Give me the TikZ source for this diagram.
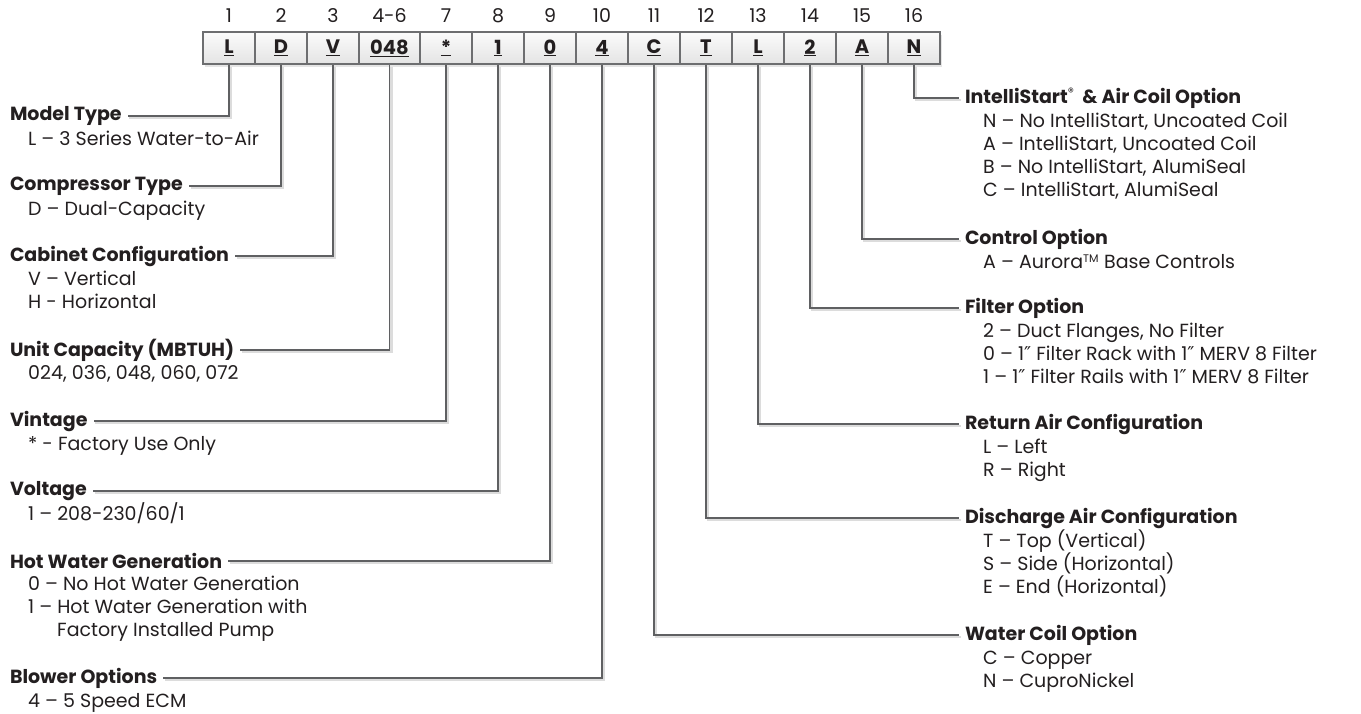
\documentclass[tikz,border=0pt]{standalone}
\usepackage{fontspec}
\setmainfont{Poppins}
\newfontfamily\dvfont{DejaVu Sans}
\newcommand{\dprime}{{\dvfont ″}}
\usetikzlibrary{shadows}
\definecolor{txt}{HTML}{231F20}
\definecolor{linec}{HTML}{5F6062}
\definecolor{lshadow}{HTML}{DCDCDC}
\definecolor{boxline}{HTML}{6D6E70}
\definecolor{boxtop}{HTML}{FBFBFB}
\definecolor{boxbot}{HTML}{E4E4E4}
\begin{document}
\begin{tikzpicture}[x=1pt,y=-1pt,
  every node/.style={text=txt},
  codebox/.style={draw=boxline, line width=1.4pt, top color=boxtop, bottom color=boxbot,
     minimum height=32pt, inner sep=0pt, font=\fontsize{19.5}{19.5}\selectfont\bfseries,
     drop shadow={shadow xshift=1.5pt, shadow yshift=-2.5pt, fill=black!10, opacity=1}},
  numlab/.style={font=\fontsize{19}{19}\selectfont, inner sep=0pt},
  hdr/.style={font=\fontsize{19}{19}\selectfont\bfseries, inner ysep=0pt, inner xsep=0pt, outer xsep=6pt},
  item/.style={font=\fontsize{19}{19}\selectfont, inner sep=0pt, anchor=base west},
  conn/.style={draw=linec, line width=1.8pt,
     preaction={draw=lshadow, line width=2.5pt, transform canvas={shift={(1.8pt,-1.8pt)}}}}
]
\useasboundingbox (0,0) rectangle (1361,713);
\fill[white] (0,0) rectangle (1361,713);

% code boxes
\foreach \nm/\cx/\w/\t/\n in {b1/229/52/L/1, b2/281/52/D/2, b3/333/52/V/3, b4/389.5/61/048/4-6,
   b5/446/52/*/7, b6/498/52/1/8, b7/550/52/0/9, b8/602/52/4/10, b9/654/52/C/11, b10/706/52/T/12,
   b11/758/52/L/13, b12/810/52/2/14, b13/862/52/A/15, b14/914/52/N/16}{
  \node[codebox, minimum width=\w pt] (\nm) at (\cx,48) {\underline{\t}};
  \node[numlab] (n\nm) at (\cx,16) {\n};
}

% left headers
\node[hdr, anchor=west] (h1) at (4,116) {Model Type};
\node[item] (h1a) at (28,122.6+23) {L – 3 Series Water-to-Air};
\node[hdr, anchor=west] (h2) at (4,186) {Compressor Type};
\node[item] (h2a) at (28,192.6+23) {D – Dual-Capacity};
\node[hdr, anchor=west] (h3) at (4,256) {Cabinet Configuration};
\node[item] (h3a) at (28,262.6+23) {V – Vertical};
\node[item] (h3b) at (28,262.6+46) {H - Horizontal};
\node[hdr, anchor=west] (h4) at (4,350) {Unit Capacity (MBTUH)};
\node[item] (h4a) at (28,356.6+23) {024, 036, 048, 060, 072};
\node[hdr, anchor=west] (h5) at (4,421) {Vintage};
\node[item] (h5a) at (28,427.6+23) {* - Factory Use Only};
\node[hdr, anchor=west] (h6) at (4,491) {Voltage};
\node[item] (h6a) at (28,497.6+23) {1 – 208-230/60/1};
\node[hdr, anchor=west] (h7) at (4,561) {Hot Water Generation};
\node[item] (h7a) at (28,567.6+23) {0 – No Hot Water Generation};
\node[item] (h7b) at (28,567.6+46) {1 – Hot Water Generation with};
\node[item] (h7c) at (57,567.6+69) {Factory Installed Pump};
\node[hdr, anchor=west] (h8) at (4,678) {Blower Options};
\node[item] (h8a) at (28,684.6+23) {4 – 5 Speed ECM};

% right headers
\node[hdr, anchor=west] (r1) at (959,98) {IntelliStart\textsuperscript{\fontsize{12}{12}\selectfont\mdseries ®}\ \ \& Air Coil Option};
\node[item] (r1a) at (983,104.6+23) {N – No IntelliStart, Uncoated Coil};
\node[item] (r1b) at (983,104.6+46) {A – IntelliStart, Uncoated Coil};
\node[item] (r1c) at (983,104.6+69) {B – No IntelliStart, AlumiSeal};
\node[item] (r1d) at (983,104.6+92) {C – IntelliStart, AlumiSeal};
\node[hdr, anchor=west] (r2) at (959,239) {Control Option};
\node[item] (r2a) at (983,245.6+23) {A – Aurora\textsuperscript{\fontsize{11}{11}\selectfont TM} Base Controls};
\node[hdr, anchor=west] (r3) at (959,308) {Filter Option};
\node[item] (r3a) at (983,314.6+23) {2 – Duct Flanges, No Filter};
\node[item] (r3b) at (983,314.6+46) {0 – 1\dprime{} Filter Rack with 1\dprime{} MERV 8 Filter};
\node[item] (r3c) at (983,314.6+69) {1 – 1\dprime{} Filter Rails with 1\dprime{} MERV 8 Filter};
\node[hdr, anchor=west] (r4) at (959,424) {Return Air Configuration};
\node[item] (r4a) at (983,430.6+23) {L – Left};
\node[item] (r4b) at (983,430.6+46) {R – Right};
\node[hdr, anchor=west] (r5) at (959,518) {Discharge Air Configuration};
\node[item] (r5a) at (983,524.6+23) {T – Top (Vertical)};
\node[item] (r5b) at (983,524.6+46) {S – Side (Horizontal)};
\node[item] (r5c) at (983,524.6+69) {E – End (Horizontal)};
\node[hdr, anchor=west] (r6) at (959,635) {Water Coil Option};
\node[item] (r6a) at (983,641.6+23) {C – Copper};
\node[item] (r6b) at (983,641.6+46) {N – CuproNickel};

% connectors
\foreach \b/\h in {b1/h1, b2/h2, b3/h3, b4/h4, b5/h5, b6/h6, b7/h7, b8/h8}{
  \path[conn] (\b.south) |- (\h.east);
}
\foreach \b/\h in {b14/r1, b13/r2, b12/r3, b11/r4, b10/r5, b9/r6}{
  \path[conn] (\b.south) |- (\h.west);
}
\end{tikzpicture}
\end{document}
